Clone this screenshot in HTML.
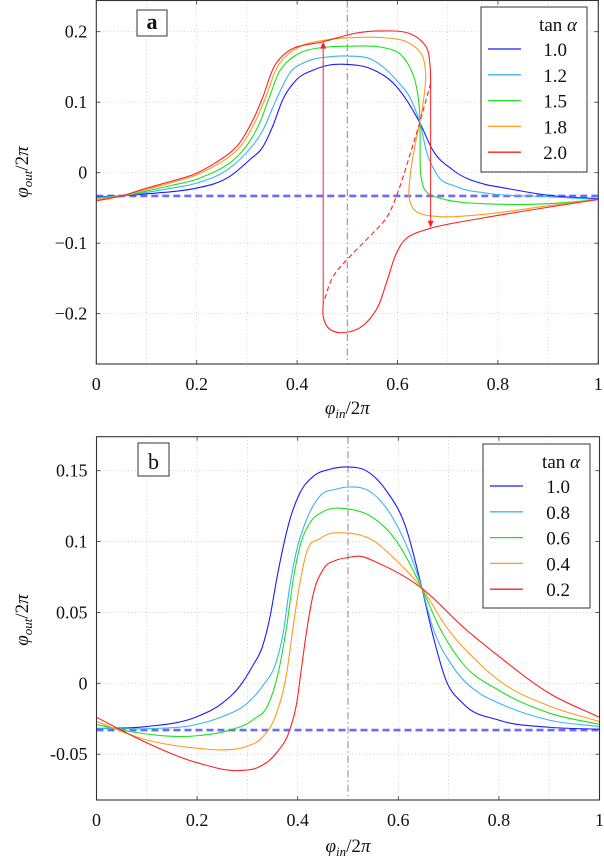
<!DOCTYPE html>
<html><head><meta charset="utf-8"><style>
html,body{margin:0;padding:0;background:#fff;}
svg{display:block;font-family:"Liberation Serif",serif;}
</style></head><body>
<svg id="chart" width="604" height="865" viewBox="0 0 604 865" xmlns="http://www.w3.org/2000/svg"></svg>
<script>
// ---------- Panel a data ----------
const aLegend = ["1.0","1.2","1.5","1.8","2.0"];
const aColors = ["#1a1aff","#3cb4f0","#1ee01e","#ff9a20","#ff2020"];
const aXTicks = [0,0.2,0.4,0.6,0.8,1];
const aXTickLabels = ["0","0.2","0.4","0.6","0.8","1"];
const aYTicks = [0.2,0.1,0,-0.1,-0.2];
const aYTickLabels = ["0.2","0.1","0","\u22120.1","\u22120.2"];
const aBlueX = [0,0.05,0.1,0.15,0.199,0.265,0.305,0.332,0.351,0.371,0.398,0.432,0.464,0.501,0.55,0.597,0.645,0.67,0.71,0.777,0.8,0.9,1];
const aBlueY = [-0.034,-0.033,-0.030,-0.027,-0.022,-0.0057,0.018,0.0369,0.0652,0.103,0.1313,0.1455,0.1526,0.1535,0.1465,0.123,0.070,0.0323,0.004,-0.017,-0.020,-0.032,-0.037];
const aCyanX = [0,0.05,0.1,0.15,0.199,0.265,0.298,0.332,0.358,0.385,0.418,0.464,0.501,0.55,0.597,0.63,0.645,0.657,0.677,0.717,0.777,0.9,1];
const aCyanY = [-0.035,-0.033,-0.028,-0.022,-0.015,0.0063,0.0275,0.0605,0.103,0.141,0.1573,0.1644,0.1654,0.160,0.132,0.099,0.070,0.0323,-0.0007,-0.0196,-0.029,-0.034,-0.038];
const aGreenX = [0,0.05,0.1,0.15,0.199,0.265,0.298,0.325,0.345,0.371,0.411,0.464,0.501,0.564,0.604,0.63,0.642,0.645,0.647,0.657,0.697,0.777,0.9,1];
const aGreenY = [-0.036,-0.033,-0.026,-0.018,-0.0094,0.0133,0.0369,0.0699,0.1077,0.1502,0.1715,0.1785,0.1795,0.1785,0.169,0.141,0.103,0.0558,-0.0055,-0.0267,-0.0385,-0.0442,-0.044,-0.038];
const aOrangeX = [0,0.05,0.1,0.15,0.199,0.265,0.292,0.318,0.338,0.365,0.404,0.464,0.517,0.564,0.617,0.647,0.656,0.649,0.637,0.625,0.624,0.637,0.677,0.763,0.9,1];
const aOrangeY = [-0.038,-0.033,-0.024,-0.014,-0.0033,0.0228,0.0417,0.0747,0.1077,0.155,0.1785,0.189,0.1918,0.1918,0.186,0.169,0.141,0.089,0.0465,-0.0054,-0.0385,-0.055,-0.062,-0.0597,-0.047,-0.038];
const aRedUpX = [0,0.05,0.1,0.15,0.199,0.265,0.285,0.312,0.332,0.358,0.391,0.451,0.517,0.564,0.624,0.657,0.665,0.666];
const aRedUpY = [-0.040,-0.033,-0.022,-0.012,-0.001,0.0275,0.0417,0.0747,0.1077,0.155,0.176,0.1856,0.198,0.2011,0.1974,0.1785,0.150,0.1266];
const aRedDashX = [0.666,0.643,0.628,0.598,0.578,0.545,0.505,0.472,0.452];
const aRedDashY = [0.1266,0.068,0.033,-0.033,-0.064,-0.090,-0.119,-0.147,-0.185];
const aRedLowX = [0.452,0.452,0.462,0.485,0.525,0.558,0.578,0.598,0.618,0.665,0.764,0.9,1];
const aRedLowY = [-0.185,-0.204,-0.220,-0.227,-0.220,-0.194,-0.156,-0.114,-0.093,-0.079,-0.065,-0.049,-0.038];
const aArrowUp = [0.452,-0.185,0.186];
const aArrowDown = [0.666,0.1266,-0.078];
const dashLevel = -0.033;

// ---------- Panel b data ----------
const bLegend = ["1.0","0.8","0.6","0.4","0.2"];
const bColors = ["#1a1aff","#3cb4f0","#1ee01e","#ff9a20","#ff2020"];
const bXTicks = [0,0.2,0.4,0.6,0.8,1];
const bXTickLabels = ["0","0.2","0.4","0.6","0.8","1"];
const bYTicks = [0.15,0.1,0.05,0,-0.05];
const bYTickLabels = ["0.15","0.1","0.05","0","-0.05"];
const bBlueX = [0,0.1,0.2,0.25,0.285,0.31,0.33,0.345,0.358,0.371,0.384,0.404,0.431,0.464,0.5,0.536,0.576,0.615,0.647,0.668,0.695,0.728,0.8,0.9,1];
const bBlueY = [-0.032,-0.0305,-0.0235,-0.014,-0.002,0.012,0.026,0.047,0.073,0.096,0.115,0.134,0.146,0.151,0.1526,0.150,0.136,0.110,0.067,0.035,0.002,-0.014,-0.026,-0.031,-0.0324];
const bCyanX = [0,0.1,0.2,0.25,0.3,0.33,0.358,0.371,0.384,0.398,0.417,0.444,0.477,0.5,0.549,0.595,0.647,0.668,0.708,0.761,0.8,0.9,1];
const bCyanY = [-0.0317,-0.032,-0.029,-0.0235,-0.014,-0.002,0.016,0.035,0.068,0.094,0.115,0.132,0.137,0.1385,0.134,0.113,0.067,0.040,0.012,-0.007,-0.014,-0.026,-0.0305];
const bGreenX = [0,0.066,0.2,0.265,0.31,0.345,0.361,0.378,0.391,0.404,0.424,0.45,0.5,0.549,0.595,0.647,0.681,0.728,0.8,0.9,1];
const bGreenY = [-0.029,-0.034,-0.037,-0.033,-0.026,-0.012,0.007,0.040,0.073,0.096,0.113,0.121,0.123,0.117,0.101,0.067,0.040,0.014,-0.005,-0.021,-0.029];
const bOrangeX = [0,0.1,0.2,0.252,0.298,0.331,0.358,0.378,0.391,0.404,0.417,0.444,0.5,0.549,0.595,0.647,0.695,0.761,0.8,0.9,1];
const bOrangeY = [-0.027,-0.040,-0.0458,-0.047,-0.0446,-0.0376,-0.021,0.007,0.040,0.070,0.0915,0.102,0.106,0.101,0.087,0.067,0.040,0.014,0.002,-0.016,-0.027];
const bRedX = [0,0.1,0.2,0.285,0.325,0.358,0.384,0.398,0.408,0.417,0.431,0.45,0.477,0.5,0.522,0.562,0.647,0.728,0.8,0.9,1];
const bRedY = [-0.024,-0.042,-0.056,-0.0615,-0.0587,-0.049,-0.033,-0.014,0.012,0.035,0.063,0.080,0.0869,0.0887,0.0897,0.0845,0.067,0.040,0.019,-0.007,-0.024];

// ---------- helpers ----------
const NS = "http://www.w3.org/2000/svg";
const svg = document.getElementById('chart');
function mk(tag, attrs, parent){
  const e = document.createElementNS(NS, tag);
  for (const k in attrs) e.setAttribute(k, attrs[k]);
  (parent||svg).appendChild(e);
  return e;
}
function axisFns(x0,x1,xmin,xmax,yTopPx,yTopVal,yRefPx,yRefVal){
  const sx = v => x0 + (v-xmin)/(xmax-xmin)*(x1-x0);
  const sy = v => yRefPx + (v-yRefVal)/(yTopVal-yRefVal)*(yTopPx-yRefPx);
  return [sx,sy];
}
const f2 = v => v.toFixed(2);
// smooth cubic Hermite with weighted three-point derivatives (function of x)
function cubicPath(xs, ys, sx, sy){
  const n = xs.length;
  const h=[], d=[];
  for (let i=0;i<n-1;i++){ h.push(xs[i+1]-xs[i]); d.push((ys[i+1]-ys[i])/h[i]); }
  const m = new Array(n);
  m[0]=d[0]; m[n-1]=d[n-2];
  for (let i=1;i<n-1;i++){
    m[i]=(d[i-1]*h[i]+d[i]*h[i-1])/(h[i-1]+h[i]);
  }
  let p = "M"+f2(sx(xs[0]))+","+f2(sy(ys[0]));
  for (let i=0;i<n-1;i++){
    const c1x=xs[i]+h[i]/3, c1y=ys[i]+m[i]*h[i]/3;
    const c2x=xs[i+1]-h[i]/3, c2y=ys[i+1]-m[i+1]*h[i]/3;
    p += " C"+f2(sx(c1x))+","+f2(sy(c1y))+" "+f2(sx(c2x))+","+f2(sy(c2y))+" "+f2(sx(xs[i+1]))+","+f2(sy(ys[i+1]));
  }
  return p;
}
function crPath(xs, ys, sx, sy){
  const P = xs.map((x,i)=>[sx(x), sy(ys[i])]);
  const n = P.length;
  const dist=(a,b)=>Math.hypot(a[0]-b[0],a[1]-b[1]);
  let d = "M"+f2(P[0][0])+","+f2(P[0][1]);
  for (let i=0;i<n-1;i++){
    const p1=P[i], p2=P[i+1];
    const p0 = i>0 ? P[i-1] : [2*p1[0]-p2[0], 2*p1[1]-p2[1]];
    const p3 = i<n-2 ? P[i+2] : [2*p2[0]-p1[0], 2*p2[1]-p1[1]];
    const d1=Math.max(Math.sqrt(dist(p0,p1)),1e-4), d2=Math.max(Math.sqrt(dist(p1,p2)),1e-4), d3=Math.max(Math.sqrt(dist(p2,p3)),1e-4);
    const c1=[0,0], c2=[0,0];
    for (let k=0;k<2;k++){
      c1[k]=(d1*d1*p2[k]-d2*d2*p0[k]+(2*d1*d1+3*d1*d2+d2*d2)*p1[k])/(3*d1*(d1+d2));
      c2[k]=(d3*d3*p1[k]-d2*d2*p3[k]+(2*d3*d3+3*d3*d2+d2*d2)*p2[k])/(3*d3*(d3+d2));
    }
    d += " C"+f2(c1[0])+","+f2(c1[1])+" "+f2(c2[0])+","+f2(c2[1])+" "+f2(p2[0])+","+f2(p2[1]);
  }
  return d;
}
function smoothPath(xs, ys, sx, sy, mode){
  if (mode==='param') return crPath(xs,ys,sx,sy);
  let inc = true;
  for (let i=1;i<xs.length;i++) if (xs[i]<=xs[i-1]) inc=false;
  return inc ? cubicPath(xs,ys,sx,sy) : crPath(xs,ys,sx,sy);
}

function drawPanel(cfg){
  const {L,R,T,B,sx,sy,xTicks,xLabels,yTicks,yLabels,letter,letterBox,legend,colors,legendBox,xlabelY,ylabelY,name} = cfg;
  const g = mk('g',{});
  
  
  for (let k=1; k<10; k++){
    if (k===5) continue;
    const x = sx(k/10);
    const gl = mk('line',{x1:x,x2:x,y1:T,y2:B,stroke:'#c8c8c8','stroke-width':0.8,'stroke-dasharray':'1 2.5'},g);
    
    
  }
  yTicks.forEach(v=>{
    const y = sy(v);
    const gl = mk('line',{x1:L,x2:R,y1:y,y2:y,stroke:'#c8c8c8','stroke-width':0.8,'stroke-dasharray':'1 2.5'},g);
    
    
  });
  const cl = mk('line',{x1:sx(0.5),x2:sx(0.5),y1:T,y2:B,stroke:'#888','stroke-width':1,'stroke-dasharray':'7 3 1.5 3'},g);
  
  
  const rl = mk('line',{x1:L,x2:R,y1:sy(dashLevel),y2:sy(dashLevel),stroke:'#6b6bff','stroke-width':2.6,'stroke-dasharray':'7 4'},g);
  
  
  cfg.series.forEach(s=>{
    const p = mk('path',{d:smoothPath(s.x,s.y,sx,sy,s.mode),fill:'none',stroke:s.c,'stroke-width':1.1,'stroke-dasharray':s.dash||'none'},g);
    
    
  });
  if (cfg.extra) cfg.extra(g);
  const fr = mk('rect',{x:L,y:T,width:R-L,height:B-T,fill:'none',stroke:'#333','stroke-width':1.1},g);
  
  
  xTicks.forEach((v,i)=>{
    const x = sx(v);
    mk('line',{x1:x,x2:x,y1:B,y2:B-4,stroke:'#333','stroke-width':0.8},g);
    mk('line',{x1:x,x2:x,y1:T,y2:T+4,stroke:'#333','stroke-width':0.8},g);
    const t = mk('text',{x:x,y:B+26,'text-anchor':'middle','font-size':18,fill:'#111'},g);
    t.textContent = xLabels[i];
    
    
  });
  yTicks.forEach((v,i)=>{
    const y = sy(v);
    mk('line',{x1:L,x2:L+4,y1:y,y2:y,stroke:'#333','stroke-width':0.8},g);
    mk('line',{x1:R,x2:R-4,y1:y,y2:y,stroke:'#333','stroke-width':0.8},g);
    const t = mk('text',{x:L-9,y:y+6,'text-anchor':'end','font-size':18,fill:'#111'},g);
    t.textContent = yLabels[i];
    
    
  });
  const xt = mk('text',{x:(L+R)/2,y:xlabelY,'text-anchor':'middle','font-size':19,'font-style':'italic',fill:'#111'},g);
  xt.innerHTML = 'φ<tspan font-size="13" dy="4">in</tspan><tspan dy="-4" font-style="normal">/2</tspan>π';
  
  
  const yt = mk('text',{x:0,y:0,'text-anchor':'middle','font-size':19,'font-style':'italic',fill:'#111',transform:'translate(28,'+ylabelY+') rotate(-90)'},g);
  yt.innerHTML = 'φ<tspan font-size="13" dy="4">out</tspan><tspan dy="-4" font-style="normal">/2</tspan>π';
  
  
  const lb = mk('rect',{x:letterBox[0],y:letterBox[1],width:letterBox[2],height:letterBox[3],fill:'#fff',stroke:'#333','stroke-width':1},g);
  
  
  const lt = mk('text',{x:letterBox[0]+letterBox[2]/2,y:letterBox[1]+letterBox[3]-7,'text-anchor':'middle','font-size':22,'font-weight':letter==='a'?'bold':'normal',fill:'#111'},g);
  lt.textContent = letter;
  
  
  const [lx,ly,lw,lh] = legendBox;
  const lg = mk('g',{},g);
  
  
  mk('rect',{x:lx,y:ly,width:lw,height:lh,fill:'#fff',stroke:'#333','stroke-width':1},lg);
  const ttl = mk('text',{x:lx+lw-10,y:ly+24,'text-anchor':'end','font-size':19,fill:'#111'},lg);
  ttl.innerHTML = 'tan <tspan font-style="italic">α</tspan>';
  
  
  legend.forEach((lab,i)=>{
    const yy = ly + 48 + i*25.8;
    const e = mk('g',{},lg);
    
    
    mk('line',{x1:lx+7,x2:lx+40,y1:yy-6,y2:yy-6,stroke:colors[i],'stroke-width':1.3},e);
    const t = mk('text',{x:lx+lw-20,y:yy+1,'text-anchor':'end','font-size':19,fill:'#111'},e);
    t.textContent = lab;
  });
}

const [axA, ayA] = axisFns(96.3,598.3,0,1, 31.7,0.2, 172.7,0);
drawPanel({
  name:'panel-a', L:96.3,R:598.3,T:0.5,B:364, sx:axA, sy:ayA,
  xTicks:aXTicks,xLabels:aXTickLabels,yTicks:aYTicks,yLabels:aYTickLabels,
  letter:'a', letterBox:[137,10,30,26], legend:aLegend, colors:aColors,
  legendBox:[481,7,106,165], xlabelY:414, ylabelY:172,
  series:[
    {name:'series-tan-1.0', x:aBlueX, y:aBlueY, c:aColors[0]},
    {name:'series-tan-1.2', x:aCyanX, y:aCyanY, c:aColors[1]},
    {name:'series-tan-1.5', x:aGreenX, y:aGreenY, c:aColors[2], mode:'param'},
    {name:'series-tan-1.8', x:aOrangeX, y:aOrangeY, c:aColors[3], mode:'param'},
    {name:'series-tan-2.0-upper', x:aRedUpX, y:aRedUpY, c:aColors[4], mode:'param'},
    {name:'series-tan-2.0-unstable', x:aRedDashX, y:aRedDashY, c:aColors[4], dash:'5 3', mode:'param'},
    {name:'series-tan-2.0-lower', x:aRedLowX, y:aRedLowY, c:aColors[4], mode:'param'}
  ],
  extra:(g)=>{
    const ux = axA(aArrowUp[0]), uy1 = ayA(aArrowUp[1]), uy2 = ayA(aArrowUp[2]);
    const a1 = mk('g',{},g);
    
    
    mk('line',{x1:ux,x2:ux,y1:uy1,y2:uy2+5,stroke:'#ff2020','stroke-width':1},a1);
    mk('path',{d:`M${ux},${uy2} l-3,7 l6,0 z`,fill:'#ff2020'},a1);
    const dx = axA(aArrowDown[0]), dy1 = ayA(aArrowDown[1]), dy2 = ayA(aArrowDown[2]);
    const a2 = mk('g',{},g);
    
    
    mk('line',{x1:dx,x2:dx,y1:dy1,y2:dy2-5,stroke:'#ff2020','stroke-width':1},a2);
    mk('path',{d:`M${dx},${dy2} l-3,-7 l6,0 z`,fill:'#ff2020'},a2);
  }
});

const [axB, ayB] = axisFns(96.5,599.5,0,1, 470.7,0.15, 683.3,0);
drawPanel({
  name:'panel-b', L:96.5,R:599.5,T:436.7,B:800, sx:axB, sy:ayB,
  xTicks:bXTicks,xLabels:bXTickLabels,yTicks:bYTicks,yLabels:bYTickLabels,
  letter:'b', letterBox:[138,443,31,33], legend:bLegend, colors:bColors,
  legendBox:[483,444,107,164], xlabelY:852, ylabelY:620,
  series:[
    {name:'series-tan-1.0', x:bBlueX, y:bBlueY, c:bColors[0]},
    {name:'series-tan-0.8', x:bCyanX, y:bCyanY, c:bColors[1]},
    {name:'series-tan-0.6', x:bGreenX, y:bGreenY, c:bColors[2]},
    {name:'series-tan-0.4', x:bOrangeX, y:bOrangeY, c:bColors[3]},
    {name:'series-tan-0.2', x:bRedX, y:bRedY, c:bColors[4]}
  ]
});
</script>
</body></html>
